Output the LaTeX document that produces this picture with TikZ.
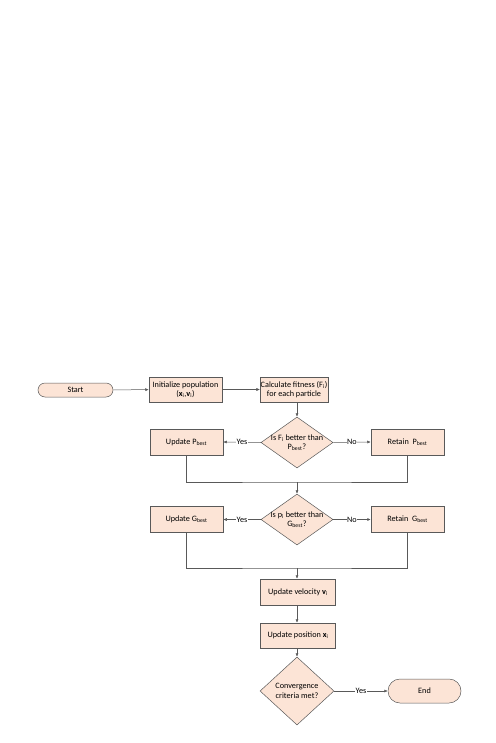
\documentclass[tikz,border=0pt]{standalone}
\usepackage{fontspec}
\setmainfont{Carlito}
\usetikzlibrary{arrows.meta, shapes.geometric}
\definecolor{boxfill}{HTML}{FCE4D6}
\definecolor{boxline}{HTML}{595959}

\begin{document}
\begin{tikzpicture}[x=1pt, y=-1pt, font=\fontsize{8.2}{9.3}\selectfont,
  proc/.style={draw=boxline, fill=boxfill, line width=0.5pt, minimum width=73pt,
    minimum height=26pt, align=center, inner sep=0.5pt},
  term/.style={draw=boxline, fill=boxfill, line width=0.5pt, rounded corners=7pt,
    minimum width=75pt, minimum height=14pt, inner sep=1pt},
  decide/.style={draw=boxline, fill=boxfill, line width=0.5pt, diamond,
    minimum width=72pt, minimum height=51pt, inner sep=0pt},
  inside/.style={align=center, inner sep=0pt},
  flow/.style={draw=boxline, line width=0.5pt, -{Latex[length=3.5pt, width=3pt]}},
  link/.style={draw=boxline, line width=0.5pt},
  tag/.style={fill=white, inner sep=0.5pt}]
  \useasboundingbox (0,0) rectangle (495,743);

  \node[term] (start) at (75.5,390) {Start};
  \node[proc, minimum height=25pt] (init) at (185.5,389.5)
    {Initialize population\\(\textbf{x}\textsubscript{i},\textbf{v}\textsubscript{i})};
  \node[proc, minimum width=67pt, minimum height=25pt] (calc) at (294,389.5)
    {Calculate fitness (F\textsubscript{i})\\for each particle};

  \node[decide] (d1) at (297,442.5) {};
  \node[inside] (d1txt) at (d1) {Is F\textsubscript{i} better than\\P\textsubscript{best}?};
  \node[proc] (upP) at (186.5,442) {Update P\textsubscript{best}};
  \node[proc] (retP) at (407.5,442) {Retain~~P\textsubscript{best}};

  \node[decide] (d2) at (297,519.5) {};
  \node[inside] (d2txt) at (d2) {Is p\textsubscript{i} better than\\G\textsubscript{best}?};
  \node[proc] (upG) at (186.5,519.5) {Update G\textsubscript{best}};
  \node[proc] (retG) at (407.5,519.5) {Retain~~G\textsubscript{best}};

  \node[proc, minimum width=75pt] (vel) at (298,592) {Update velocity \textbf{v}\textsubscript{i}};
  \node[proc, minimum width=75pt, minimum height=25pt] (pos) at (298,635.5)
    {Update position \textbf{x}\textsubscript{i}};
  \node[decide, minimum width=74pt, minimum height=68pt] (d3) at (297,691) {};
  \node[inside] (d3txt) at (d3) {Convergence\\criteria met?};
  \node[term, minimum width=73pt, minimum height=24pt, rounded corners=12pt] (end) at (424.5,691) {End};

  \coordinate (m1) at (297,482);
  \coordinate (m2) at (297,568);

  \draw[flow] (start) -- (init);
  \draw[flow] (init) -- (calc);
  \draw[flow] (calc.south -| d1.north) -- (d1.north);
  \draw[flow] (d1.west) -- node[tag] {Yes} (upP.east);
  \draw[flow] (d1.east) -- node[tag] {No} (retP.west);
  \draw[link] (upP.south) |- (m1) -| (retP.south);
  \draw[flow] (m1) -- (d2.north);
  \draw[flow] (d2.west) -- node[tag] {Yes} (upG.east);
  \draw[flow] (d2.east) -- node[tag] {No} (retG.west);
  \draw[link] (upG.south) |- (m2) -| (retG.south);
  \draw[flow] (m2) -- (m2 |- vel.north);
  \draw[flow] (vel.south -| m2) -- (pos.north -| m2);
  \draw[flow] (pos.south -| d3.north) -- (d3.north);
  \draw[flow] (d3.east) -- node[tag] {Yes} (end.west);
\end{tikzpicture}
\end{document}
